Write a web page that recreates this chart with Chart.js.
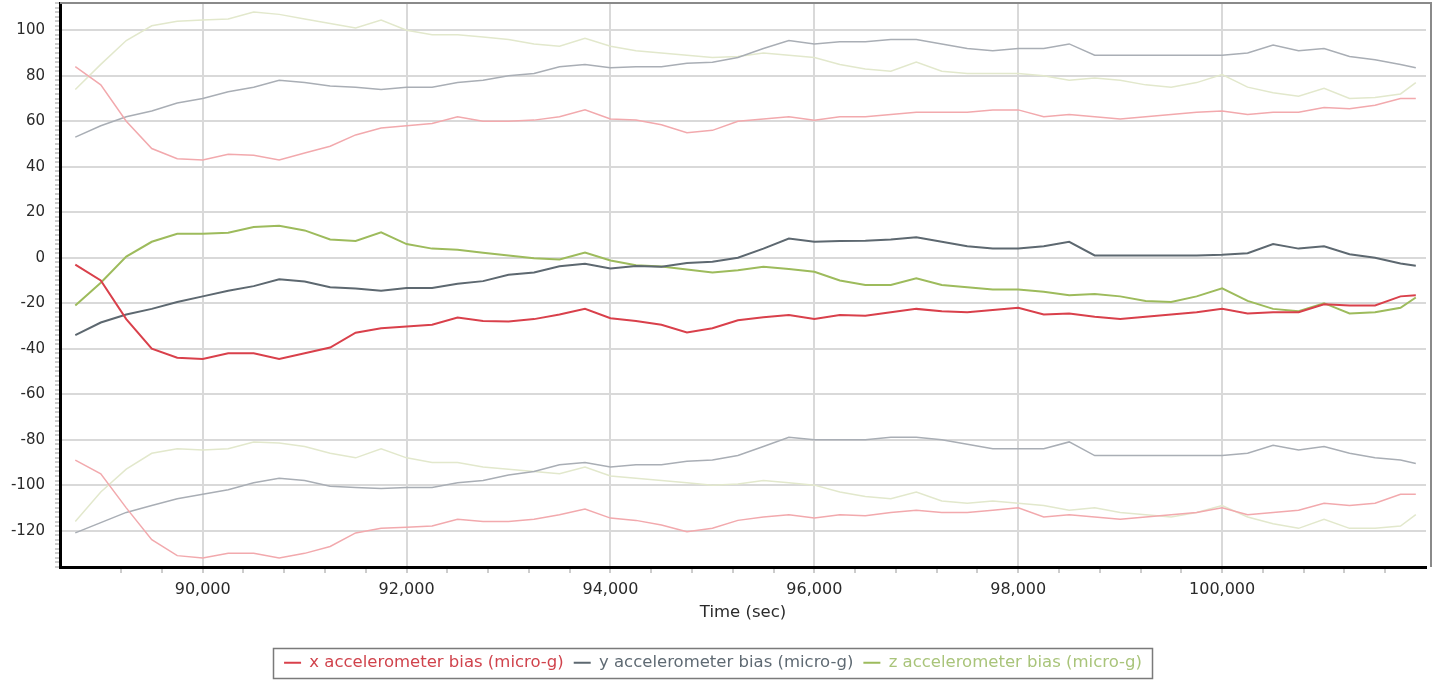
<!DOCTYPE html>
<html>
<head>
<meta charset="utf-8">
<script src="https://cdn.jsdelivr.net/npm/chart.js@4.4.1/dist/chart.umd.min.js"></script>
<style>
  html, body { margin: 0; padding: 0; background: #fff; }
  #wrap { width: 1437px; height: 681px; position: relative; }
</style>
</head>
<body>
<div id="wrap"><canvas id="biasChart"></canvas></div>
<script>
// time stamps (sec)
const times = [88750, 89000, 89250, 89500, 89750, 90000, 90250, 90500, 90750, 91000,
    91250, 91500, 91750, 92000, 92250, 92500, 92750, 93000, 93250, 93500,
    93750, 94000, 94250, 94500, 94750, 95000, 95250, 95500, 95750, 96000,
    96250, 96500, 96750, 97000, 97250, 97500, 97750, 98000, 98250, 98500,
    98750, 99000, 99250, 99500, 99750, 100000, 100250, 100500, 100750, 101000,
    101250, 101500, 101750, 101900];

// x accelerometer bias + its upper / lower envelope
const xBias = [-3, -10, -27, -40, -44, -44.5, -42, -42, -44.5, -42,
    -39.5, -33, -31, -30.3, -29.5, -26.3, -27.8, -28, -27, -25,
    -22.5, -26.6, -27.8, -29.5, -32.9, -31, -27.5, -26.2, -25.2, -26.9,
    -25.2, -25.5, -24, -22.5, -23.5, -24, -23, -22, -25, -24.5,
    -26, -27, -26, -25, -24, -22.5, -24.5, -24, -24, -20.5,
    -21, -21, -17, -16.5];
const xUpper = [84, 76, 60, 48, 43.5, 43, 45.5, 45, 43, 46,
    49, 54, 57, 58, 59, 62, 60, 60, 60.5, 62,
    65, 61, 60.5, 58.5, 55, 56, 60, 61, 62, 60.5,
    62, 62, 63, 64, 64, 64, 65, 65, 62, 63,
    62, 61, 62, 63, 64, 64.5, 63, 64, 64, 66,
    65.5, 67, 70, 70];
const xLower = [-89, -95, -110, -124, -131, -132, -130, -130, -132, -130,
    -127, -121, -119, -118.5, -118, -115, -116, -116, -115, -113,
    -110.5, -114.5, -115.5, -117.5, -120.5, -119, -115.5, -114, -113, -114.5,
    -113, -113.5, -112, -111, -112, -112, -111, -110, -114, -113,
    -114, -115, -114, -113, -112, -110, -113, -112, -111, -108,
    -109, -108, -104, -104];

// y accelerometer bias
const yBias = [-34, -28.5, -25, -22.5, -19.5, -17, -14.5, -12.5, -9.5, -10.5,
    -13, -13.5, -14.5, -13.3, -13.3, -11.5, -10.3, -7.5, -6.5, -3.8,
    -2.7, -4.7, -3.7, -4, -2.3, -1.8, 0, 4, 8.4, 7,
    7.4, 7.5, 8, 9, 7, 5, 4, 4, 5, 7,
    1, 1, 1, 1, 1, 1.3, 2, 6, 4, 5,
    1.5, 0, -2.5, -3.5];
const yUpper = [53, 58, 62, 64.5, 68, 70, 73, 75, 78, 77,
    75.5, 75, 74, 75, 75, 77, 78, 80, 81, 84,
    85, 83.5, 84, 84, 85.5, 86, 88, 92, 95.5, 94,
    95, 95, 96, 96, 94, 92, 91, 92, 92, 94,
    89, 89, 89, 89, 89, 89, 90, 93.5, 91, 92,
    88.5, 87, 85, 83.5];
const yLower = [-121, -116.5, -112, -109, -106, -104, -102, -99, -97, -98,
    -100.5, -101, -101.5, -101, -101, -99, -98, -95.5, -94, -91,
    -90, -92, -91, -91, -89.5, -89, -87, -83, -79, -80,
    -80, -80, -79, -79, -80, -82, -84, -84, -84, -81,
    -87, -87, -87, -87, -87, -87, -86, -82.5, -84.5, -83,
    -86, -88, -89, -90.5];

// z accelerometer bias
const zBias = [-21, -11, 0.5, 7, 10.5, 10.5, 11, 13.5, 14, 12,
    8, 7.4, 11.2, 6, 4, 3.5, 2.2, 1, -0.2, -0.8,
    2.3, -1.2, -3.3, -3.9, -5.2, -6.5, -5.5, -4, -5, -6.2,
    -10, -12, -12, -9, -12, -13, -14, -14, -15, -16.5,
    -16, -17, -19, -19.5, -17, -13.5, -19, -22.5, -23.5, -20,
    -24.5, -24, -22, -17.5];
const zUpper = [74, 85, 95.5, 102, 104, 104.5, 105, 108, 107, 105,
    103, 101, 104.5, 100, 98, 98, 97, 96, 94, 93,
    96.5, 93, 91, 90, 89, 88, 88.5, 90, 89, 88,
    85, 83, 82, 86, 82, 81, 81, 81, 80, 78,
    79, 78, 76, 75, 77, 80.5, 75, 72.5, 71, 74.5,
    70, 70.5, 72, 77];
const zLower = [-116, -103, -93, -86, -84, -84.5, -84, -81, -81.5, -83,
    -86, -88, -84, -88, -90, -90, -92, -93, -94, -95,
    -92, -96, -97, -98, -99, -100, -99.5, -98, -99, -100,
    -103, -105, -106, -103, -107, -108, -107, -108, -109, -111,
    -110, -112, -113, -114, -112, -109, -114, -117, -119, -115,
    -119, -119, -118, -113];

const seriesNames = ['x accelerometer bias (micro-g)', 'y accelerometer bias (micro-g)', 'z accelerometer bias (micro-g)'];
const mainColors  = ['#d9404b', '#5d6870', '#9dbb5c'];
const boundColors = ['#f2a9ad', '#a9aeb5', '#e2e8cc'];
const textColors  = ['#d0434c', '#5f6a73', '#a9c47a'];

const FONT = 'DejaVu Sans';

const toPts = (arr) => arr.map((v, i) => ({ x: times[i], y: v }));

const mains = [xBias, yBias, zBias];
const bounds = [[xUpper, xLower], [yUpper, yLower], [zUpper, zLower]];

const datasets = [];
mains.forEach((arr, i) => {
    datasets.push({
        label: seriesNames[i],
        data: toPts(arr),
        borderColor: mainColors[i],
        backgroundColor: mainColors[i],
        borderWidth: 2,
        pointRadius: 0,
        tension: 0
    });
});
bounds.forEach((pair, i) => {
    pair.forEach(arr => {
        datasets.push({
            label: seriesNames[i] + ' bound',
            data: toPts(arr),
            borderColor: boundColors[i],
            backgroundColor: boundColors[i],
            borderWidth: 1.5,
            pointRadius: 0,
            tension: 0
        });
    });
});

// grey frame on top / right plus border round the legend
const framePlugin = {
    id: 'frame',
    beforeDatasetsDraw(chart) {
        const { ctx, chartArea: a } = chart;
        ctx.save();
        ctx.strokeStyle = '#8a8a8a';
        ctx.lineWidth = 2;
        ctx.beginPath();
        ctx.moveTo(a.left, a.top);
        ctx.lineTo(a.right + 5, a.top);
        ctx.lineTo(a.right + 5, a.bottom);
        ctx.stroke();
        ctx.restore();
    },
    afterDraw(chart) {
        const lg = chart.legend;
        if (!lg || !lg.legendHitBoxes.length) return;
        const hb = lg.legendHitBoxes;
        const left = Math.min(...hb.map(h => h.left)) - 11;
        const right = Math.max(...hb.map(h => h.left + h.width)) + 10;
        const cy = hb[0].top + hb[0].height / 2;
        const { ctx } = chart;
        ctx.save();
        ctx.strokeStyle = '#7a7a7a';
        ctx.lineWidth = 1.5;
        ctx.strokeRect(Math.round(left) + 0.5, Math.round(cy - 15) + 0.5, Math.round(right - left), 30);
        ctx.restore();
    }
};

new Chart(document.getElementById('biasChart'), {
    type: 'line',
    data: { datasets },
    plugins: [framePlugin],
    options: {
        responsive: true,
        maintainAspectRatio: false,
        animation: false,
        layout: { padding: { top: 3, right: 11, bottom: 0, left: 0 } },
        plugins: {
            tooltip: { enabled: false },
            legend: {
                position: 'bottom',
                labels: {
                    font: { family: FONT, size: 16.5 },
                    usePointStyle: true,
                    pointStyle: 'line',
                    pointStyleWidth: 17,
                    padding: 10,
                    filter: (item) => item.datasetIndex < 3,
                    generateLabels: (chart) => seriesNames.map((name, i) => ({
                        text: name,
                        fillStyle: mainColors[i],
                        strokeStyle: mainColors[i],
                        fontColor: textColors[i],
                        lineWidth: 2,
                        pointStyle: 'line',
                        datasetIndex: i,
                        hidden: false
                    }))
                }
            }
        },
        scales: {
            x: {
                type: 'linear',
                min: 88600,
                max: 102000,
                afterFit: (s) => {
                    const lgH = s.chart.legend ? s.chart.legend.height : 0;
                    s.height = Math.max(20, s.chart.height - lgH - 567);
                    s.paddingLeft = 0;
                    s.paddingRight = 0;
                },
                border: { color: '#000', width: 3 },
                grid: {
                    lineWidth: 2,
                    color: (c) => (c.tick && c.tick.value % 2000 === 0 && c.tick.value < 102000) ? '#d9d9d9' : 'rgba(0,0,0,0)',
                    tickColor: (c) => (c.tick && c.tick.value % 400 === 0 && c.tick.value < 102000) ? '#9a9a9a' : 'rgba(0,0,0,0)',
                    tickLength: 6,
                    tickWidth: 1
                },
                ticks: {
                    stepSize: 400,
                    autoSkip: false,
                    maxRotation: 0,
                    minRotation: 0,
                    padding: 7,
                    color: '#2a2a2a',
                    font: { family: FONT, size: 16 },
                    callback: (v) => (v % 2000 === 0 && v < 102000) ? v.toLocaleString('en-US') : ''
                },
                title: {
                    display: true,
                    text: 'Time (sec)',
                    color: '#2a2a2a',
                    font: { family: FONT, size: 16.5 },
                    padding: { top: 0, bottom: 22 }
                }
            },
            y: {
                min: -136,
                max: 112,
                afterFit: (s) => {
                    s.width = 60;
                    s.paddingTop = 0;
                    s.paddingBottom = 0;
                },
                border: { color: '#000', width: 3 },
                grid: {
                    lineWidth: 2,
                    color: (c) => (c.tick && c.tick.value % 20 === 0) ? '#d9d9d9' : 'rgba(0,0,0,0)',
                    tickColor: '#9a9a9a',
                    tickLength: 5,
                    tickWidth: 1
                },
                ticks: {
                    stepSize: 2,
                    autoSkip: false,
                    padding: 10,
                    color: '#2a2a2a',
                    font: { family: FONT, size: 15 },
                    callback: (v) => v % 20 === 0 ? String(v) : ''
                }
            }
        }
    }
});
</script>
</body>
</html>
